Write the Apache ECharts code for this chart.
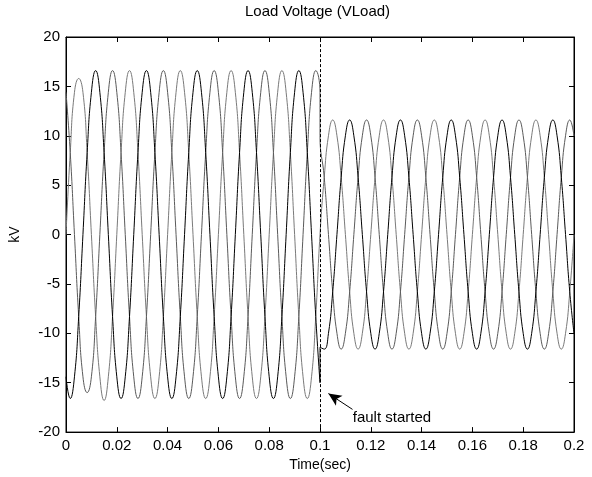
<!DOCTYPE html>
<html>
<head>
<meta charset="utf-8">
<script src="https://cdn.jsdelivr.net/npm/echarts@6/dist/echarts.min.js"></script>
<style>
html,body{margin:0;padding:0;background:#fff;}
#chart{width:592px;height:477px;}
</style>
</head>
<body>
<div id="chart"></div>
<script>
// Time samples (sec); 0.1 appears twice: pre-fault and post-fault values
const time = [
  0, 0.00167, 0.00333, 0.005, 0.00667, 0.00833, 0.01, 0.01167, 0.01333, 0.015, 0.01667, 0.01833,
  0.02, 0.02167, 0.02333, 0.025, 0.02667, 0.02833, 0.03, 0.03167, 0.03333, 0.035, 0.03667, 0.03833,
  0.04, 0.04167, 0.04333, 0.045, 0.04667, 0.04833, 0.05, 0.05167, 0.05333, 0.055, 0.05667, 0.05833,
  0.06, 0.06167, 0.06333, 0.065, 0.06667, 0.06833, 0.07, 0.07167, 0.07333, 0.075, 0.07667, 0.07833,
  0.08, 0.08167, 0.08333, 0.085, 0.08667, 0.08833, 0.09, 0.09167, 0.09333, 0.095, 0.09667, 0.09833,
  0.1, 0.1,
  0.10167, 0.10333, 0.105, 0.10667, 0.10833, 0.11, 0.11167, 0.11333, 0.115, 0.11667, 0.11833,
  0.12, 0.12167, 0.12333, 0.125, 0.12667, 0.12833, 0.13, 0.13167, 0.13333, 0.135, 0.13667, 0.13833,
  0.14, 0.14167, 0.14333, 0.145, 0.14667, 0.14833, 0.15, 0.15167, 0.15333, 0.155, 0.15667, 0.15833,
  0.16, 0.16167, 0.16333, 0.165, 0.16667, 0.16833, 0.17, 0.17167, 0.17333, 0.175, 0.17667, 0.17833,
  0.18, 0.18167, 0.18333, 0.185, 0.18667, 0.18833, 0.19, 0.19167, 0.19333, 0.195, 0.19667, 0.19833,
  0.2
];

// Phase voltages (kV)
const phaseA = [
  0, 8.3, 14.4, 15.8, 14.4, 8.3, 0, -8.3, -14.4, -16.8, -14.4, -8.3,
  0, 8.3, 14.4, 16.6, 14.4, 8.3, 0, -8.3, -14.4, -16.6, -14.4, -8.3,
  0, 8.3, 14.4, 16.6, 14.4, 8.3, 0, -8.3, -14.4, -16.6, -14.4, -8.3,
  0, 8.3, 14.4, 16.6, 14.4, 8.3, 0, -8.3, -14.4, -16.6, -14.4, -8.3,
  0, 8.3, 14.4, 16.6, 14.4, 8.3, 0, -8.3, -14.4, -16.6, -14.4, -8.3,
  0, 0,
  5.8, 10.0, 11.6, 10.0, 5.8, 0, -5.8, -10.0, -11.6, -10.0, -5.8,
  0, 5.8, 10.0, 11.6, 10.0, 5.8, 0, -5.8, -10.0, -11.6, -10.0, -5.8,
  0, 5.8, 10.0, 11.6, 10.0, 5.8, 0, -5.8, -10.0, -11.6, -10.0, -5.8,
  0, 5.8, 10.0, 11.6, 10.0, 5.8, 0, -5.8, -10.0, -11.6, -10.0, -5.8,
  0, 5.8, 10.0, 11.6, 10.0, 5.8, 0, -5.8, -10.0, -11.6, -10.0, -5.8,
  0
];
const phaseB = [
  -14.4, -16.6, -14.4, -8.3, 0, 8.3, 14.4, 16.6, 14.4, 8.3, 0, -8.3,
  -14.4, -16.6, -14.4, -8.3, 0, 8.3, 14.4, 16.6, 14.4, 8.3, 0, -8.3,
  -14.4, -16.6, -14.4, -8.3, 0, 8.3, 14.4, 16.6, 14.4, 8.3, 0, -8.3,
  -14.4, -16.6, -14.4, -8.3, 0, 8.3, 14.4, 16.6, 14.4, 8.3, 0, -8.3,
  -14.4, -16.6, -14.4, -8.3, 0, 8.3, 14.4, 16.6, 14.4, 8.3, 0, -8.3,
  -15.0, -11.4,
  -11.6, -10.0, -5.8, 0, 5.8, 10.0, 11.6, 10.0, 5.8, 0, -5.8,
  -10.0, -11.6, -10.0, -5.8, 0, 5.8, 10.0, 11.6, 10.0, 5.8, 0, -5.8,
  -10.0, -11.6, -10.0, -5.8, 0, 5.8, 10.0, 11.6, 10.0, 5.8, 0, -5.8,
  -10.0, -11.6, -10.0, -5.8, 0, 5.8, 10.0, 11.6, 10.0, 5.8, 0, -5.8,
  -10.0, -11.6, -10.0, -5.8, 0, 5.8, 10.0, 11.6, 10.0, 5.8, 0, -5.8,
  -10.0
];
const phaseC = [
  14.4, 8.3, 0, -8.3, -14.4, -16.0, -14.4, -8.3, 0, 8.3, 14.4, 16.6,
  14.4, 8.3, 0, -8.3, -14.4, -16.6, -14.4, -8.3, 0, 8.3, 14.4, 16.6,
  14.4, 8.3, 0, -8.3, -14.4, -16.6, -14.4, -8.3, 0, 8.3, 14.4, 16.6,
  14.4, 8.3, 0, -8.3, -14.4, -16.6, -14.4, -8.3, 0, 8.3, 14.4, 16.6,
  14.4, 8.3, 0, -8.3, -14.4, -16.6, -14.4, -8.3, 0, 8.3, 14.4, 16.6,
  14.4, 10.0,
  5.8, 0, -5.8, -10.0, -11.6, -10.0, -5.8, 0, 5.8, 10.0, 11.6,
  10.0, 5.8, 0, -5.8, -10.0, -11.6, -10.0, -5.8, 0, 5.8, 10.0, 11.6,
  10.0, 5.8, 0, -5.8, -10.0, -11.6, -10.0, -5.8, 0, 5.8, 10.0, 11.6,
  10.0, 5.8, 0, -5.8, -10.0, -11.6, -10.0, -5.8, 0, 5.8, 10.0, 11.6,
  10.0, 5.8, 0, -5.8, -10.0, -11.6, -10.0, -5.8, 0, 5.8, 10.0, 11.6,
  10.0
];

const faultTime = 0.1;
const faultLabel = 'fault started';
const faultTextAt = [0.1129, -18.6];
const arrowFrom = [0.1128, -17.7];
const arrowTo = [0.1033, -16.1];

const titleText = 'Load Voltage (VLoad)';
const xName = 'Time(sec)';
const yName = 'kV';

const FONT = 'Liberation Sans, Arial, Helvetica, sans-serif';
const zip = arr => time.map((t, i) => [t, arr[i]]);

const chart = echarts.init(document.getElementById('chart'), null, {renderer: 'canvas'});

const tickStyle = {inside: true, length: 5, lineStyle: {color: '#000', width: 1}};
const axLine = {show: true, onZero: false, lineStyle: {color: '#000', width: 1}};
const labelStyle = {color: '#000', fontSize: 15, fontFamily: FONT};

function lineSeries(name, arr, color, extra) {
  return Object.assign({
    name: name,
    type: 'line',
    data: zip(arr),
    showSymbol: false,
    smooth: 0.5,
    lineStyle: {color: color, width: 1},
    itemStyle: {color: color},
    animation: false,
    z: 2
  }, extra || {});
}

chart.setOption({
  backgroundColor: '#fff',
  animation: false,
  title: {
    text: titleText,
    left: 245,
    top: 3,
    padding: 0,
    textStyle: {fontSize: 15, fontWeight: 'normal', color: '#000', fontFamily: FONT, lineHeight: 18}
  },
  grid: {left: 64, right: 18, top: 37, bottom: 40, show: true, borderColor: '#000', borderWidth: 1, backgroundColor: '#fff'},
  xAxis: [
    {
      type: 'value', min: 0, max: 0.2, interval: 0.02, position: 'bottom',
      axisLine: axLine, axisTick: tickStyle, splitLine: {show: false},
      axisLabel: Object.assign({margin: 6, formatter: v => String(parseFloat(v.toFixed(2)))}, labelStyle),
      name: xName, nameLocation: 'middle', nameGap: 25,
      nameTextStyle: {color: '#000', fontSize: 14, fontFamily: FONT}
    },
    {
      type: 'value', min: 0, max: 0.2, interval: 0.02, position: 'top',
      axisLine: axLine, axisTick: tickStyle, splitLine: {show: false},
      axisLabel: {show: false}
    }
  ],
  yAxis: [
    {
      type: 'value', min: -20, max: 20, interval: 5, position: 'left',
      axisLine: axLine, axisTick: tickStyle, splitLine: {show: false},
      axisLabel: Object.assign({margin: 6}, labelStyle),
      name: yName, nameLocation: 'middle', nameGap: 44, nameRotate: 90,
      nameTextStyle: {color: '#000', fontSize: 14, fontFamily: FONT}
    },
    {
      type: 'value', min: -20, max: 20, interval: 5, position: 'right',
      axisLine: axLine, axisTick: tickStyle, splitLine: {show: false},
      axisLabel: {show: false}
    }
  ],
  series: [
    lineSeries('Phase A', phaseA, '#7a7a7a'),
    lineSeries('Phase C', phaseC, '#5a5a5a'),
    lineSeries('Phase B', phaseB, '#000000', {
      markLine: {
        silent: true,
        animation: false,
        symbol: ['none', 'none'],
        label: {show: false},
        lineStyle: {color: '#000', type: [3, 2], width: 1},
        data: [
          {xAxis: faultTime},
          [
            {coord: arrowFrom, symbol: 'none'},
            {coord: arrowTo, symbol: 'arrow', symbolSize: [9, 13], lineStyle: {type: 'solid'}}
          ]
        ]
      },
      markPoint: {
        silent: true,
        animation: false,
        symbol: 'circle',
        symbolSize: 0,
        data: [{coord: faultTextAt, value: faultLabel}],
        label: {show: true, position: 'right', distance: 0, formatter: faultLabel, color: '#000', fontSize: 15, fontFamily: FONT}
      }
    })
  ]
});
</script>
</body>
</html>
